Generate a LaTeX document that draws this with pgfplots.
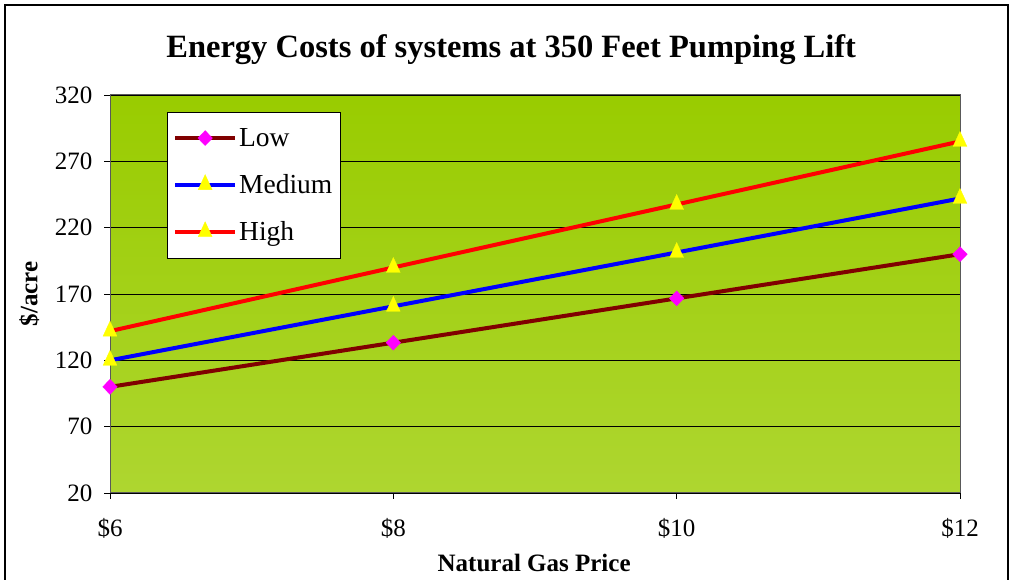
\documentclass[border=0pt]{standalone}
\usepackage{fontspec}
\setmainfont{Liberation Serif}
\usepackage{pgfplots}
\pgfplotsset{compat=1.18}

\definecolor{lowc}{RGB}{128,0,0}
\definecolor{medc}{RGB}{0,0,255}
\definecolor{highc}{RGB}{255,0,0}
\definecolor{mk1}{RGB}{255,0,255}
\definecolor{mk2}{RGB}{255,255,0}
\definecolor{bgtop}{RGB}{153,204,0}
\definecolor{bgbot}{RGB}{174,214,48}

\begin{document}
\begin{tikzpicture}
\useasboundingbox (0pt,0pt) rectangle (1012pt,580pt);
\draw[black, line width=1.2pt] (5pt,-10pt) -- (5pt,575pt) -- (1008pt,575pt) -- (1008pt,-10pt);
\begin{axis}[
    at={(110pt,87pt)}, anchor=south west,
    width=850pt, height=398pt, scale only axis,
    xmin=6, xmax=12, ymin=20, ymax=320,
    xtick={6,8,10,12},
    xticklabels={\$6,\$8,\$10,\$12},
    ytick={20,70,...,320},
    ymajorgrids,
    major grid style={black, line width=0.6pt},
    axis background/.style={top color=bgtop, bottom color=bgbot},
    axis line style={draw=gray!70!black, line width=1pt},
    tick align=outside,
    xtick pos=bottom, ytick pos=left,
    major tick length=6pt,
    tick style={black, line width=0.8pt},
    /pgf/number format/assume math mode=true,
    ticklabel style={font=\fontsize{25}{27}\selectfont},
    xticklabel style={yshift=-16pt},
    yticklabel style={xshift=-8pt},
    title={Energy Costs of systems at 350 Feet Pumping Lift},
    title style={at={(axis description cs:0.472,1.10)}, anchor=center,
        font=\fontsize{32.5}{36}\selectfont\bfseries},
    xlabel={Natural Gas Price},
    xlabel style={at={(axis description cs:0.499,-0.176)}, anchor=center,
        font=\fontsize{25}{28}\selectfont\bfseries},
    ylabel={\$/acre},
    ylabel style={at={(axis description cs:-0.095,0.5)}, anchor=center,
        font=\fontsize{25}{28}\selectfont\bfseries},
    legend cell align=left,
    legend style={at={(0.067,0.957)}, anchor=north west, draw=black,
        fill=white, font=\fontsize{27.5}{30}\selectfont,
        inner xsep=6pt, inner ysep=14pt, row sep=22.5pt},
    legend image code/.code={
        \draw[mark repeat=2, mark phase=2] plot coordinates {(0pt,0pt) (30pt,0pt) (60pt,0pt)};
    },
]
\addplot[lowc, line width=4pt, mark=diamond*, mark size=7.5pt,
    mark options={fill=mk1, draw=mk1, line width=0.3pt, xscale=1.3}]
    coordinates {(6,100) (8,133.3) (10,166.7) (12,200)};
\addlegendentry{Low}
\addplot[medc, line width=4pt, mark=triangle*, mark size=8pt,
    mark options={fill=mk2, draw=mk2, line width=0.3pt, yscale=1.25}]
    coordinates {(6,120) (8,160.7) (10,201.3) (12,242)};
\addlegendentry{Medium}
\addplot[highc, line width=4pt, mark=triangle*, mark size=8pt,
    mark options={fill=mk2, draw=mk2, line width=0.3pt, yscale=1.25}]
    coordinates {(6,142) (8,190) (10,237.5) (12,285)};
\addlegendentry{High}
\end{axis}
\end{tikzpicture}
\end{document}
